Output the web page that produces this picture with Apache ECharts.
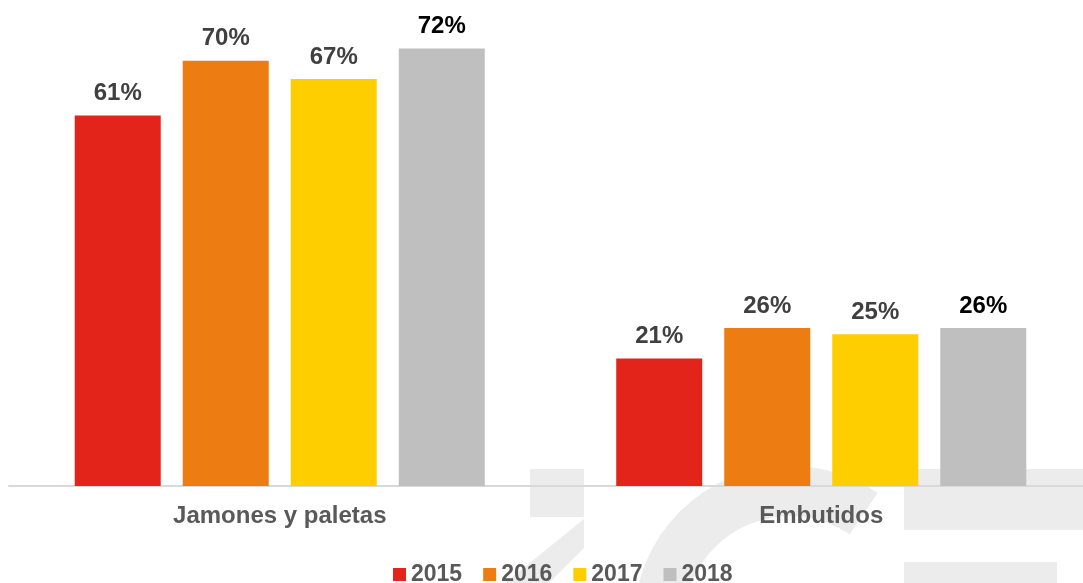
<!DOCTYPE html>
<html>
<head>
<meta charset="utf-8">
<script src="https://cdn.jsdelivr.net/npm/echarts@6/dist/echarts.min.js"></script>
<style>
	html, body {margin: 0; padding: 0; background: #fff;}
	#chart {width: 1083px; height: 583px;}
</style>
</head>
<body>
<div id="chart"></div>
<script>
// datos
var categorias = ['Jamones y paletas', 'Embutidos'];
var anios = ['2015', '2016', '2017', '2018'];
var v2015 = [61, 21];
var v2016 = [70, 26];
var v2017 = [67, 25];
var v2018 = [72, 26];

var colores = ['#E3241B', '#ED7D12', '#FECE00', '#C0BFC0'];
var valores = [v2015, v2016, v2017, v2018];

var chart = echarts.init(document.getElementById('chart'));

var series = [];
for (var i = 0; i < anios.length; i++) {
	series.push({
		name: anios[i],
		type: 'bar',
		data: valores[i],
		barWidth: 86,
		barGap: '25.6%',
		itemStyle: {color: colores[i]},
		label: {
			show: true,
			position: 'top',
			distance: 10,
			formatter: '{c}%',
			fontFamily: 'Liberation Sans',
			fontWeight: 'bold',
			fontSize: 24,
			color: i == 3 ? '#000000' : '#404040'// 2018 en negro
		},
		z: 3
	});
}

var option = {
	backgroundColor: '#ffffff',
	animation: false,
	// marca de agua del fondo
	graphic: [
		{type: 'rect', z: -1, shape: {x: 530, y: 469, width: 54, height: 48}, style: {fill: '#ececec'}},
		{type: 'polygon', z: -1, shape: {points: [[584, 519], [584, 548], [549, 583], [505, 583], [505, 583]]}, style: {fill: '#ececec'}},
		{type: 'sector', z: -1, shape: {cx: 790, cy: 622, r: 156, r0: 106, startAngle: Math.PI, endAngle: Math.PI * 1.69, clockwise: true}, style: {fill: '#ececec'}},
		{type: 'rect', z: -1, shape: {x: 904, y: 469, width: 179, height: 61}, style: {fill: '#ececec'}},
		{type: 'rect', z: -1, shape: {x: 904, y: 562, width: 153, height: 21}, style: {fill: '#ececec'}}
	],
	legend: {
		data: anios,
		left: 388,
		top: 558,
		itemWidth: 13,
		itemHeight: 13,
		itemGap: 21,
		icon: 'rect',
		textStyle: {
			fontFamily: 'Liberation Sans',
			fontWeight: 'bold',
			fontSize: 23,
			color: '#595959'
		}
	},
	grid: {
		left: 9,
		top: 0,
		width: 1083,
		bottom: 97,
		outerBoundsMode: 'none',// que el grid pueda salir del contenedor
		containLabel: false
	},
	xAxis: {
		type: 'category',
		data: categorias,
		axisLine: {lineStyle: {color: '#D9D9D9', width: 2}},
		axisTick: {show: false},
		axisLabel: {
			margin: 18,
			fontFamily: 'Liberation Sans',
			fontWeight: 'bold',
			fontSize: 24,
			color: '#595959'
		}
	},
	yAxis: {
		type: 'value',
		min: 0,
		max: 80,
		show: false,
		splitLine: {show: false}
	},
	series: series
};

chart.setOption(option);
</script>
</body>
</html>
